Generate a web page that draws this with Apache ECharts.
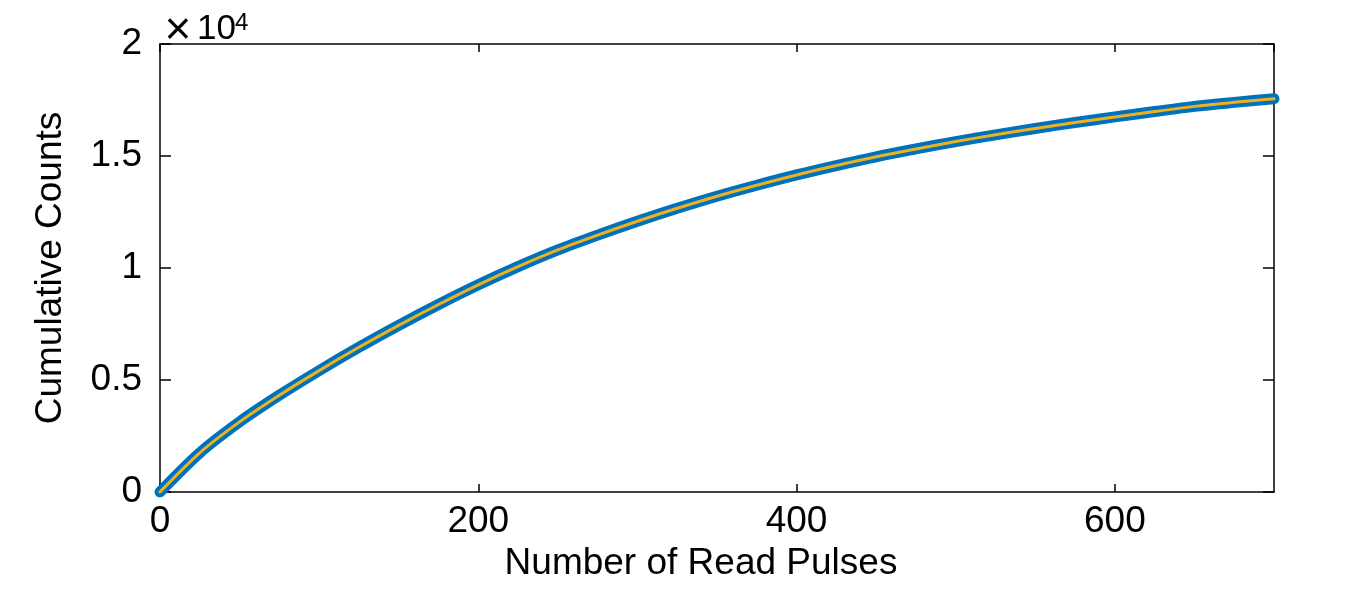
<!DOCTYPE html>
<html>
<head>
<meta charset="utf-8">
<script src="https://cdn.jsdelivr.net/npm/echarts@6/dist/echarts.min.js"></script>
<style>
  html, body { margin: 0; padding: 0; background: #fff; }
  #chart { width: 1346px; height: 591px; }
</style>
</head>
<body>
<div id="chart"></div>
<script>
var pulses = [0, 25, 50, 75, 100, 125, 150, 175, 200, 225, 250, 275, 300, 325, 350,
              375, 400, 425, 450, 475, 500, 525, 550, 575, 600, 625, 650, 675, 700];
var measuredCounts = [0, 1750, 3130, 4320, 5420, 6460, 7440, 8370, 9250, 10060, 10805, 11465, 12085, 12665, 13205,
                      13695, 14155, 14575, 14965, 15315, 15645, 15945, 16230, 16495, 16745, 16985, 17215, 17395, 17560];
var fitCounts = [0, 1750, 3130, 4320, 5420, 6460, 7440, 8370, 9250, 10060, 10805, 11465, 12085, 12665, 13205,
                 13695, 14155, 14575, 14965, 15315, 15645, 15945, 16230, 16495, 16745, 16985, 17215, 17395, 17560];
var yTickLabels = ['0', '0.5', '1', '1.5', '2'];

var font = '"Liberation Sans", Arial, Helvetica, sans-serif';

function pairs(xs, ys) {
    return xs.map(function(x, i) { return [x, ys[i]]; });
}

var chart = echarts.init(document.getElementById('chart'));

var xBase = {
    type: 'value',
    min: 0,
    max: 700,
    interval: 200,
    splitLine: { show: false },
    axisLine: { show: true, onZero: false, lineStyle: { color: '#000', width: 1.5 } },
    axisTick: { show: true, inside: true, length: 8, lineStyle: { color: '#000', width: 1.5 } }
};
var yBase = {
    type: 'value',
    min: 0,
    max: 20000,
    interval: 5000,
    splitLine: { show: false },
    axisLine: { show: true, onZero: false, lineStyle: { color: '#000', width: 1.5 } },
    axisTick: { show: true, inside: true, length: 11, lineStyle: { color: '#000', width: 1.5 } }
};

chart.setOption({
    backgroundColor: '#fff',
    animation: false,
    grid: { left: 160, right: 72, top: 44, bottom: 99 },
    xAxis: [
        Object.assign({}, xBase, {
            position: 'bottom',
            name: 'Number of Read Pulses',
            nameLocation: 'middle',
            nameGap: 38,
            nameTextStyle: { fontFamily: font, fontSize: 37, color: '#000', padding: [0, 32, 0, 0] },
            axisLabel: { show: true, showMaxLabel: false, margin: 11, fontFamily: font, fontSize: 37, color: '#000' }
        }),
        Object.assign({}, xBase, {
            position: 'top',
            axisLabel: { show: false }
        })
    ],
    yAxis: [
        Object.assign({}, yBase, {
            position: 'left',
            name: 'Cumulative Counts',
            nameLocation: 'middle',
            nameRotate: 90,
            nameGap: 91,
            nameTextStyle: { fontFamily: font, fontSize: 37, color: '#000' },
            axisLabel: {
                show: true, margin: 18, fontFamily: font, fontSize: 37, color: '#000',
                formatter: function(v, i) { return yTickLabels[i]; }
            }
        }),
        Object.assign({}, yBase, {
            position: 'right',
            axisLabel: { show: false }
        })
    ],
    graphic: [{
        // exponent label: ×10^4
        type: 'text',
        style: { x: 178, y: 31, text: '×', fontFamily: font, fontSize: 46, fill: '#000', align: 'center', verticalAlign: 'middle' }
    }, {
        type: 'text',
        style: { x: 197, y: 29, text: '10', fontFamily: font, fontSize: 35, fill: '#000', align: 'left', verticalAlign: 'middle' }
    }, {
        type: 'text',
        style: { x: 235, y: 23, text: '4', fontFamily: font, fontSize: 24, fill: '#000', align: 'left', verticalAlign: 'middle' }
    }],
    series: [{
        // measured (thick blue markers)
        type: 'line',
        data: pairs(pulses, measuredCounts),
        smooth: 0.3,
        symbol: 'none',
        lineStyle: { color: '#0072BD', width: 11, cap: 'round', join: 'round' },
        z: 2
    }, {
        // fit
        type: 'line',
        data: pairs(pulses, fitCounts),
        smooth: 0.3,
        symbol: 'none',
        lineStyle: { color: '#EDB120', width: 3, cap: 'round', join: 'round' },
        z: 3
    }]
});
</script>
</body>
</html>
